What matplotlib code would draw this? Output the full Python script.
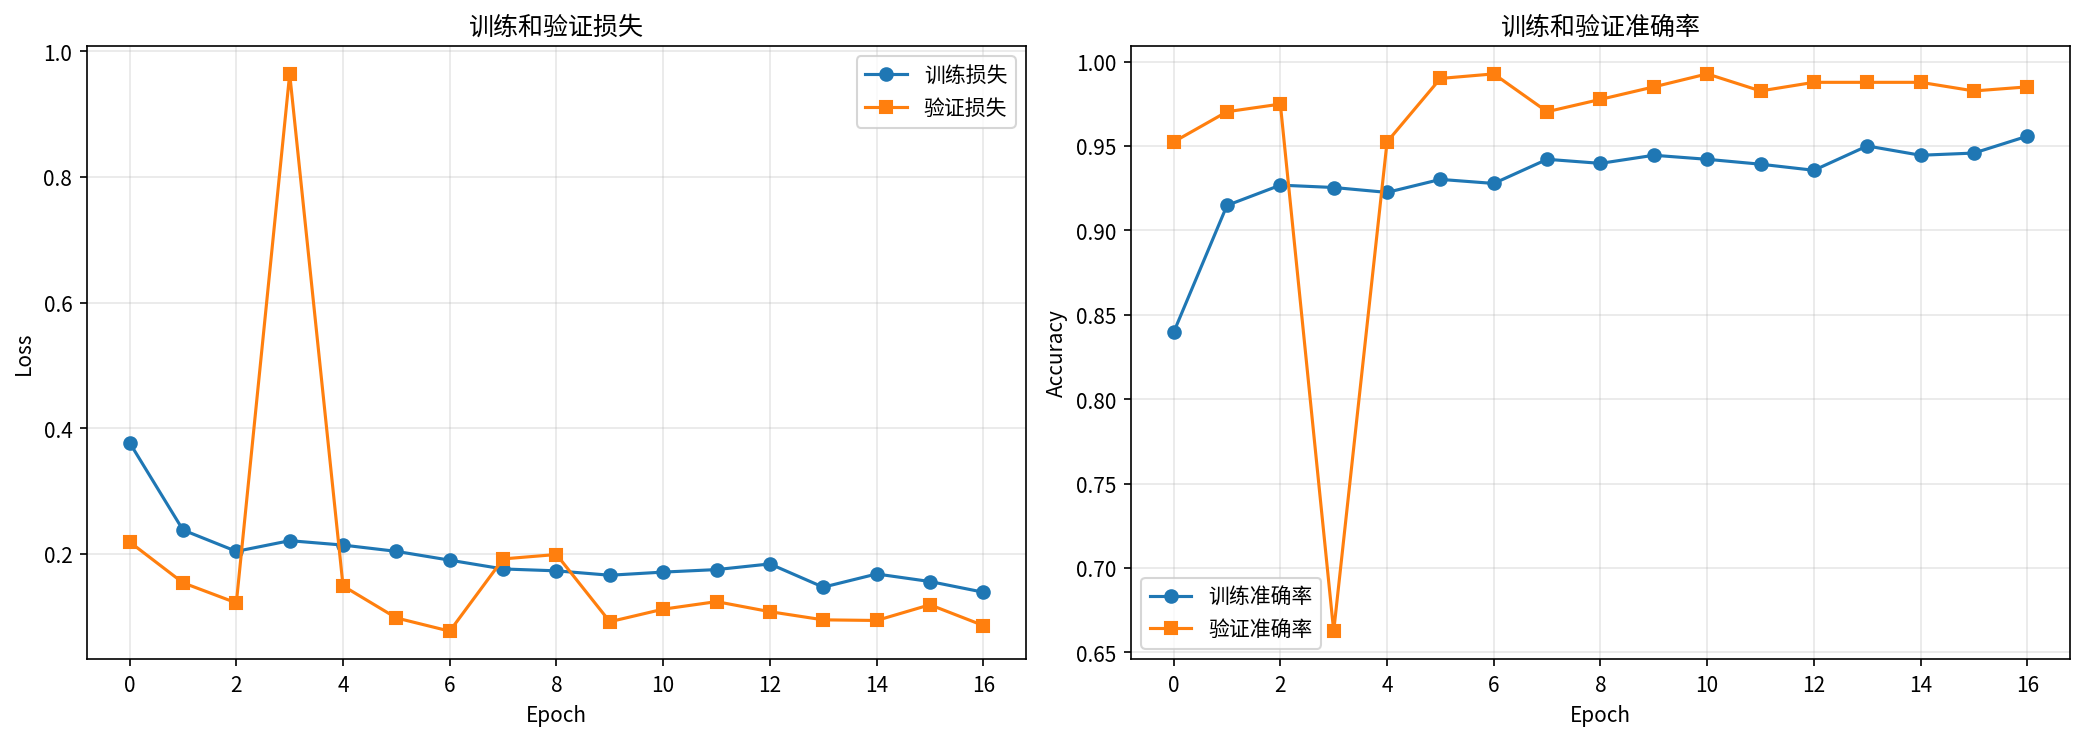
import matplotlib
matplotlib.use('Agg')
import matplotlib.pyplot as plt

plt.rcParams['font.family'] = ['Noto Sans CJK SC', 'DejaVu Sans']
plt.rcParams['axes.unicode_minus'] = False

epochs = list(range(17))

train_loss = [0.377, 0.238, 0.204, 0.221, 0.214, 0.204, 0.190, 0.176, 0.173,
              0.166, 0.171, 0.175, 0.184, 0.147, 0.168, 0.156, 0.139]
val_loss = [0.219, 0.154, 0.122, 0.964, 0.149, 0.098, 0.077, 0.192, 0.199,
            0.092, 0.112, 0.124, 0.108, 0.095, 0.094, 0.119, 0.086]

train_acc = [0.8396, 0.9148, 0.9268, 0.9254, 0.9225, 0.9302, 0.9278, 0.9421, 0.9397,
             0.9445, 0.9421, 0.9392, 0.9356, 0.9500, 0.9445, 0.9458, 0.9558]
val_acc = [0.9524, 0.9703, 0.9748, 0.6626, 0.9524, 0.9900, 0.9927, 0.9703, 0.9776,
           0.9850, 0.9927, 0.9826, 0.9877, 0.9877, 0.9877, 0.9826, 0.9850]

fig, (ax1, ax2) = plt.subplots(1, 2, figsize=(13.9, 4.893), dpi=150)

# 损失曲线
ax1.plot(epochs, train_loss, marker='o', label='训练损失')
ax1.plot(epochs, val_loss, marker='s', label='验证损失')
ax1.set_title('训练和验证损失')
ax1.set_xlabel('Epoch')
ax1.set_ylabel('Loss')
ax1.legend()
ax1.grid(True, alpha=0.3)

# 准确率曲线
ax2.plot(epochs, train_acc, marker='o', label='训练准确率')
ax2.plot(epochs, val_acc, marker='s', label='验证准确率')
ax2.set_title('训练和验证准确率')
ax2.set_xlabel('Epoch')
ax2.set_ylabel('Accuracy')
ax2.legend()
ax2.grid(True, alpha=0.3)

plt.subplots_adjust(left=0.0417, right=0.9928, top=0.936, bottom=0.1008, wspace=0.1118)
plt.savefig('out.png', dpi=150)
plt.close()
